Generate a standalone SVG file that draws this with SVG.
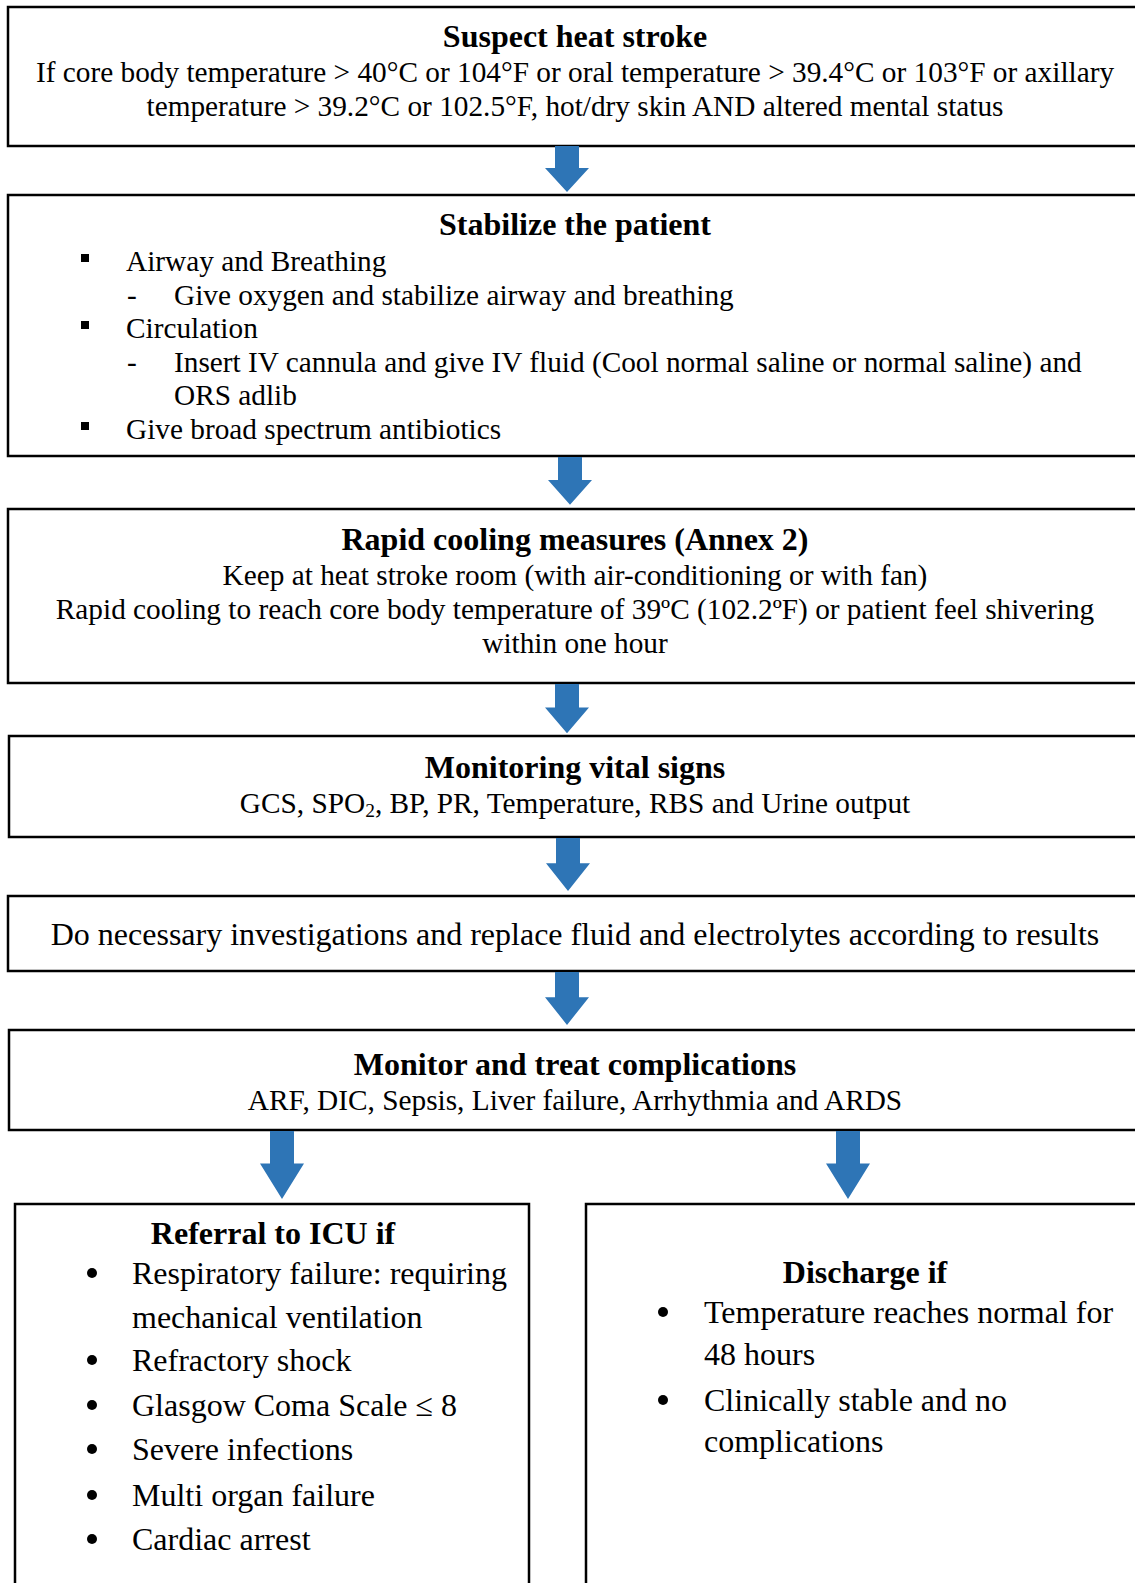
<svg xmlns="http://www.w3.org/2000/svg" width="1135" height="1583" viewBox="0 0 1135 1583">
<style>
text{font-family:"Liberation Serif","Times New Roman",serif;font-size:32px;fill:#000}
.s{font-size:29.3px}
.b{font-weight:bold}
.c{text-anchor:middle}
.box{fill:#fff;stroke:#000;stroke-width:2.5}
.arr{fill:#2E75B6}
.sq{fill:#000}
</style>
<defs>
<path id="arrow" d="M-12,0 H12 V22 H22 L0,46 L-22,22 H-12 Z"/>
</defs>
<rect width="1135" height="1583" fill="#fff"/>
<g id="n1">
<rect class="box" x="8" y="7" width="1140" height="139"/>
<text class="b c" x="575" y="47">Suspect heat stroke</text>
<text class="s c" x="575" y="82">If core body temperature &gt; 40°C or 104°F or oral temperature &gt; 39.4°C or 103°F or axillary</text>
<text class="s c" x="575" y="116">temperature &gt; 39.2°C or 102.5°F, hot/dry skin AND altered mental status</text>
</g>
<g id="n2">
<rect class="box" x="8" y="195" width="1140" height="261"/>
<text class="b c" x="575" y="235">Stabilize the patient</text>
<rect class="sq" x="81" y="254" width="8" height="8"/>
<text class="s" x="126" y="271">Airway and Breathing</text>
<text class="s" x="127" y="305">-</text>
<text class="s" x="174" y="305">Give oxygen and stabilize airway and breathing</text>
<rect class="sq" x="81" y="321" width="8" height="8"/>
<text class="s" x="126" y="338">Circulation</text>
<text class="s" x="127" y="372">-</text>
<text class="s" x="174" y="372">Insert IV cannula and give IV fluid (Cool normal saline or normal saline) and</text>
<text class="s" x="174" y="405">ORS adlib</text>
<rect class="sq" x="81" y="422" width="8" height="8"/>
<text class="s" x="126" y="439">Give broad spectrum antibiotics</text>
</g>
<g id="n3">
<rect class="box" x="8" y="509" width="1140" height="174"/>
<text class="b c" x="575" y="550">Rapid cooling measures (Annex 2)</text>
<text class="s c" x="575" y="585">Keep at heat stroke room (with air-conditioning or with fan)</text>
<text class="s c" x="575" y="619">Rapid cooling to reach core body temperature of 39ºC (102.2ºF) or patient feel shivering</text>
<text class="s c" x="575" y="653">within one hour</text>
</g>
<g id="n4">
<rect class="box" x="9" y="736" width="1140" height="101"/>
<text class="b c" x="575" y="778">Monitoring vital signs</text>
<text class="s c" x="575" y="813">GCS, SPO<tspan font-size="19.5" dy="4">2</tspan><tspan dy="-4">, BP, PR, Temperature, RBS and Urine output</tspan></text>
</g>
<g id="n5">
<rect class="box" x="8" y="896" width="1140" height="75"/>
<text class="c" x="575" y="945">Do necessary investigations and replace fluid and electrolytes according to results</text>
</g>
<g id="n6">
<rect class="box" x="9" y="1030" width="1140" height="100"/>
<text class="b c" x="575" y="1075">Monitor and treat complications</text>
<text class="s c" x="575" y="1110">ARF, DIC, Sepsis, Liver failure, Arrhythmia and ARDS</text>
</g>
<g id="n7">
<rect class="box" x="15" y="1204" width="514" height="400"/>
<text class="b c" x="273" y="1244">Referral to ICU if</text>
<circle cx="92" cy="1273" r="5"/>
<text x="132" y="1284">Respiratory failure: requiring</text>
<text x="132" y="1328">mechanical ventilation</text>
<circle cx="92" cy="1360" r="5"/>
<text x="132" y="1371">Refractory shock</text>
<circle cx="92" cy="1405" r="5"/>
<text x="132" y="1416">Glasgow Coma Scale ≤ 8</text>
<circle cx="92" cy="1449" r="5"/>
<text x="132" y="1460">Severe infections</text>
<circle cx="92" cy="1495" r="5"/>
<text x="132" y="1506">Multi organ failure</text>
<circle cx="92" cy="1539" r="5"/>
<text x="132" y="1550">Cardiac arrest</text>
</g>
<g id="n8">
<rect class="box" x="586" y="1204" width="560" height="400"/>
<text class="b c" x="865" y="1283">Discharge if</text>
<circle cx="663" cy="1312" r="5"/>
<text x="704" y="1323">Temperature reaches normal for</text>
<text x="704" y="1365">48 hours</text>
<circle cx="663" cy="1400" r="5"/>
<text x="704" y="1411">Clinically stable and no</text>
<text x="704" y="1452">complications</text>
</g>
<g id="connectors">
<use href="#arrow" class="arr" transform="translate(567,146)"/>
<use href="#arrow" class="arr" transform="translate(570,457) scale(1,1.04)"/>
<use href="#arrow" class="arr" transform="translate(567,684) scale(1,1.07)"/>
<use href="#arrow" class="arr" transform="translate(568,838) scale(1,1.15)"/>
<use href="#arrow" class="arr" transform="translate(567,972) scale(1,1.15)"/>
<use href="#arrow" class="arr" transform="translate(282,1131) scale(1,1.48)"/>
<use href="#arrow" class="arr" transform="translate(848,1131) scale(1,1.48)"/>
</g>
</svg>
